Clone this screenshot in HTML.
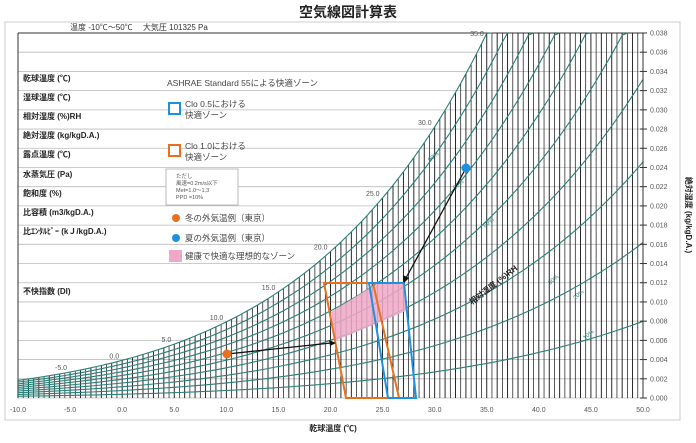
<!DOCTYPE html>
<html><head><meta charset="utf-8"><style>
body{margin:0;background:#fff;width:696px;height:438px;overflow:hidden;font-family:"Liberation Sans","Noto Sans CJK JP",sans-serif}
svg text{font-family:"Liberation Sans","Noto Sans CJK JP",sans-serif}
</style></head><body>
<svg id="s" width="696" height="438" xmlns="http://www.w3.org/2000/svg"></svg>
<script>
const s=document.getElementById('s');
let h='';
const X=t=>18+(t+10)*625/60;
const Y=w=>398-w*365/0.038;
const ps=t=>610.94*Math.exp(17.625*t/(t+243.04));
const W=(t,f)=>{const p=ps(t)*f;return 1.04*0.622*p/(101325-p);};
h+='<rect x="5" y="22" width="675" height="398" fill="none" stroke="#ccc"/>';
h+='<text x="348" y="17" font-size="14" font-weight="bold" text-anchor="middle" fill="#222">空気線図計算表</text>';
h+='<text x="70" y="30" font-size="8" fill="#333">温度 -10℃〜50℃　 大気圧 101325 Pa</text>';
for(let i=0;i<=19;i++){const y=Y(i*0.002);h+=`<line x1="18" x2="643" y1="${y}" y2="${y}" stroke="${i==19?'#333':'#bbb'}" stroke-width="${i==19?1:0.8}"/>`;}
h+='<line x1="18" x2="18" y1="33" y2="398" stroke="#333"/>';
for(let t=-10;t<=50;t+=0.5){const w=Math.min(W(t,1),0.038);h+=`<line x1="${X(t)}" x2="${X(t)}" y1="398" y2="${Y(w)}" stroke="#111" stroke-width="${t%1==0?0.9:0.7}"/>`;}
for(let f=1;f<=10;f++){let d='';for(let t=-10;t<=50;t+=0.5){let w=W(t,f/10);if(w>0.038){d+='L'+X(t).toFixed(1)+','+Y(0.038);break;}d+=(d?'L':'M')+X(t).toFixed(1)+','+Y(w).toFixed(1);}
h+=`<path d="${d}" fill="none" stroke="#2a7f78" stroke-width="1.1"/>`;}
for(let t=-5;t<=35;t+=5){const w=Math.min(W(t,1),0.0375);h+=`<text x="${X(t)-3}" y="${Y(w)-2}" font-size="7" fill="#555" text-anchor="end">${t.toFixed(1)}</text>`;}
for(let i=0;i<=19;i++){const y=Y(i*0.002);h+=`<line x1="640" x2="647" y1="${y}" y2="${y}" stroke="#333"/><text x="650" y="${y+2.5}" font-size="7" fill="#555">${(i*0.002).toFixed(3)}</text>`;}
h+='<line x1="643" x2="643" y1="33" y2="398" stroke="#333"/>';
for(let t=-10;t<=50;t+=5){h+=`<text x="${X(t)}" y="412" font-size="7" fill="#555" text-anchor="middle">${t.toFixed(1)}</text>`;}
h+='<text x="333" y="431" font-size="8" font-weight="bold" fill="#222" text-anchor="middle">乾球温度 (℃)</text>';
h+='<text transform="translate(686,215) rotate(90)" font-size="8" font-weight="bold" fill="#222" text-anchor="middle">絶対湿度 (kg/kgD.A.)</text>';
h+='<text transform="translate(472,305) rotate(-38)" font-size="8" font-weight="bold" fill="#222">相対湿度 (%)RH</text>';
[[430,162,'90%'],[455,190,'80%'],[485,228,'60%'],[550,285,'30%'],[575,300,'20%'],[585,340,'10%']].forEach(a=>h+=`<text transform="translate(${a[0]},${a[1]}) rotate(-40)" font-size="6" fill="#2a7f78">${a[2]}</text>`);
const L=[[81,'乾球温度 (℃)'],[100,'湿球温度 (℃)'],[119,'相対湿度 (%)RH'],[138,'絶対湿度 (kg/kgD.A.)'],[157,'露点温度 (℃)'],[177,'水蒸気圧 (Pa)'],[196,'飽和度 (%)'],[215,'比容積 (m3/kgD.A.)'],[234,'比ｴﾝﾀﾙﾋﾟｰ (kＪ/kgD.A.)'],[294,'不快指数 (DI)']];
L.forEach(a=>h+=`<text x="23" y="${a[0]}" font-size="8" font-weight="bold" fill="#222">${a[1]}</text>`);
h+='<polygon points="331,312 376,284 405,283 406,311 335,341" fill="#f0a8c8" opacity="0.85"/>';
h+='<polygon points="324,283 373,283 399,398 346,398" fill="none" stroke="#e8701e" stroke-width="2"/>';
h+='<polygon points="369,283 404,283 416,398 388,398" fill="none" stroke="#1e90e0" stroke-width="2"/>';
h+='<line x1="227" y1="354" x2="331" y2="343" stroke="#111" stroke-width="1.3"/><polygon points="336,343 329,340 330,346" fill="#111"/>';
h+='<line x1="466" y1="168" x2="406" y2="278" stroke="#111" stroke-width="1.3"/><polygon points="404,283 403,275 409,278" fill="#111"/>';
h+='<circle cx="227" cy="354" r="4.5" fill="#e8701e"/><circle cx="466" cy="168" r="4.5" fill="#1e90e0"/>';
h+='<text x="167" y="86" font-size="8.5" fill="#444">ASHRAE Standard 55による快適ゾーン</text>';
h+='<rect x="169" y="103" width="11" height="11" fill="#fff" stroke="#1e90e0" stroke-width="2"/><text x="185" y="107" font-size="8.5" fill="#444">Clo 0.5における</text><text x="185" y="118" font-size="8.5" fill="#444">快適ゾーン</text>';
h+='<rect x="169" y="145" width="11" height="11" fill="#fff" stroke="#e8701e" stroke-width="2"/><text x="185" y="149" font-size="8.5" fill="#444">Clo 1.0における</text><text x="185" y="160" font-size="8.5" fill="#444">快適ゾーン</text>';
h+='<rect x="166" y="169" width="72" height="36" fill="#fff" stroke="#bbb"/>';
h+='<text x="176" y="178" font-size="5.5" fill="#555">ただし</text><text x="176" y="185" font-size="5.5" fill="#555">風速=0.2m/s以下</text><text x="176" y="192" font-size="5.5" fill="#555">Met=1.0〜1.3</text><text x="176" y="199" font-size="5.5" fill="#555">PPD =10%</text>';
h+='<circle cx="176" cy="218" r="4" fill="#e8701e"/><text x="185" y="221" font-size="8.5" fill="#444">冬の外気温例（東京）</text>';
h+='<circle cx="176" cy="238" r="4" fill="#1e90e0"/><text x="185" y="241" font-size="8.5" fill="#444">夏の外気温例（東京）</text>';
h+='<rect x="169" y="250" width="13" height="12" fill="#f0a8c8"/><text x="185" y="259" font-size="8.5" fill="#444">健康で快適な理想的なゾーン</text>';
s.innerHTML=h;
</script>
</body></html>
